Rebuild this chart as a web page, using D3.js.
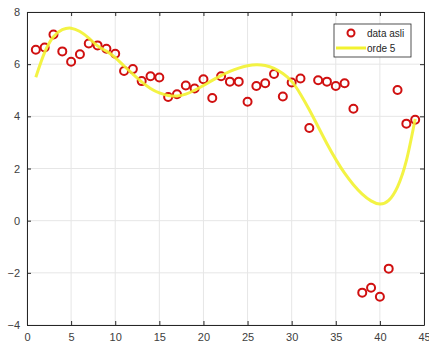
<!DOCTYPE html>
<html>
<head>
<meta charset="utf-8">
<script src="https://cdn.jsdelivr.net/npm/d3@7"></script>
<style>
  body { margin: 0; background: #fff; }
  svg { display: block; font-family: "Liberation Sans", Arial, sans-serif; }
</style>
</head>
<body>
<svg id="chart" width="429" height="347"></svg>
<script>
// data asli (x = 1..44)
const dataX = d3.range(1, 45);
const dataY = [6.55, 6.64, 7.14, 6.49, 6.09, 6.38, 6.79, 6.72, 6.59, 6.40,
  5.74, 5.81, 5.35, 5.54, 5.49, 4.74, 4.85, 5.18, 5.07, 5.42,
  4.70, 5.54, 5.33, 5.33, 4.56, 5.16, 5.27, 5.62, 4.76, 5.30,
  5.45, 3.55, 5.38, 5.33, 5.16, 5.27, 4.29, -2.76, -2.57, -2.92,
  -1.84, 5.01, 3.72, 3.87];

// orde 5 curve
const fitX = d3.range(1, 45);
const fitY = [5.5, 6.45, 7.05, 7.32, 7.38, 7.25, 7.0, 6.7, 6.5, 6.25,
  5.93, 5.62, 5.32, 5.07, 4.9, 4.8, 4.78, 4.85, 5.0, 5.18,
  5.38, 5.56, 5.72, 5.85, 5.94, 5.98, 5.95, 5.84, 5.64, 5.34,
  4.85, 4.25, 3.6, 2.95, 2.35, 1.82, 1.38, 1.02, 0.76, 0.64,
  0.78, 1.3, 2.3, 3.9];

const xTicks = [0, 5, 10, 15, 20, 25, 30, 35, 40, 45];
const yTicks = [-4, -2, 0, 2, 4, 6, 8];

const svg = d3.select('#chart');
const plotLeft = 27, plotRight = 424, plotTop = 12, plotBottom = 325;

const x = d3.scaleLinear().domain([0, 45]).range([plotLeft, plotRight]);
const y = d3.scaleLinear().domain([-4, 8]).range([plotBottom, plotTop]);

// grid
svg.append('g').selectAll('line').data(xTicks).enter().append('line')
  .attr('x1', d => x(d)).attr('x2', d => x(d))
  .attr('y1', plotTop).attr('y2', plotBottom)
  .attr('stroke', '#e6e6e6').attr('stroke-width', 1);
svg.append('g').selectAll('line').data(yTicks).enter().append('line')
  .attr('x1', plotLeft).attr('x2', plotRight)
  .attr('y1', d => y(d)).attr('y2', d => y(d))
  .attr('stroke', '#e6e6e6').attr('stroke-width', 1);

// axes
const axisColor = '#262626';
const styleAxis = g => {
  g.select('.domain').attr('stroke', axisColor);
  g.selectAll('.tick line').attr('stroke', axisColor);
  g.selectAll('.tick text').attr('fill', '#404040').style('font-size', '11px');
};
svg.append('g').attr('transform', `translate(0,${plotBottom})`)
  .call(d3.axisBottom(x).tickValues(xTicks).tickSizeInner(-4).tickSizeOuter(0).tickPadding(8))
  .call(styleAxis);
svg.append('g').attr('transform', `translate(${plotLeft},0)`)
  .call(d3.axisLeft(y).tickValues(yTicks).tickSizeInner(-4).tickSizeOuter(0).tickPadding(7))
  .call(styleAxis);
svg.append('g').attr('transform', `translate(0,${plotTop})`)
  .call(d3.axisTop(x).tickValues(xTicks).tickSizeInner(-4).tickSizeOuter(0).tickFormat(''))
  .call(styleAxis);
svg.append('g').attr('transform', `translate(${plotRight},0)`)
  .call(d3.axisRight(y).tickValues(yTicks).tickSizeInner(-4).tickSizeOuter(0).tickFormat(''))
  .call(styleAxis);

// data points
svg.append('g').selectAll('circle').data(dataX).enter().append('circle')
  .attr('cx', (d, i) => x(d))
  .attr('cy', (d, i) => y(dataY[i]))
  .attr('r', 4)
  .attr('fill', 'none')
  .attr('stroke', '#d01010')
  .attr('stroke-width', 2);

// fitted curve
const line = d3.line()
  .x((d, i) => x(d))
  .y((d, i) => y(fitY[i]))
  .curve(d3.curveNatural);
svg.append('path').datum(fitX)
  .attr('d', line)
  .attr('fill', 'none')
  .attr('stroke', '#f2f230')
  .attr('stroke-width', 3)
  .attr('stroke-opacity', 0.9);

// legend
const lg = svg.append('g').attr('transform', 'translate(334,24)');
lg.append('rect').attr('width', 77).attr('height', 33)
  .attr('fill', '#fff').attr('stroke', '#262626').attr('stroke-width', 0.8);
lg.append('circle').attr('cx', 17).attr('cy', 9).attr('r', 3.5)
  .attr('fill', 'none').attr('stroke', '#d01010').attr('stroke-width', 2);
lg.append('line').attr('x1', 2).attr('x2', 32).attr('y1', 24).attr('y2', 24)
  .attr('stroke', '#f2f230').attr('stroke-width', 3);
lg.append('text').attr('x', 33).attr('y', 12.5).text('data asli')
  .attr('fill', '#262626').style('font-size', '10px');
lg.append('text').attr('x', 33).attr('y', 27.5).text('orde 5')
  .attr('fill', '#262626').style('font-size', '10px');
</script>
</body>
</html>
